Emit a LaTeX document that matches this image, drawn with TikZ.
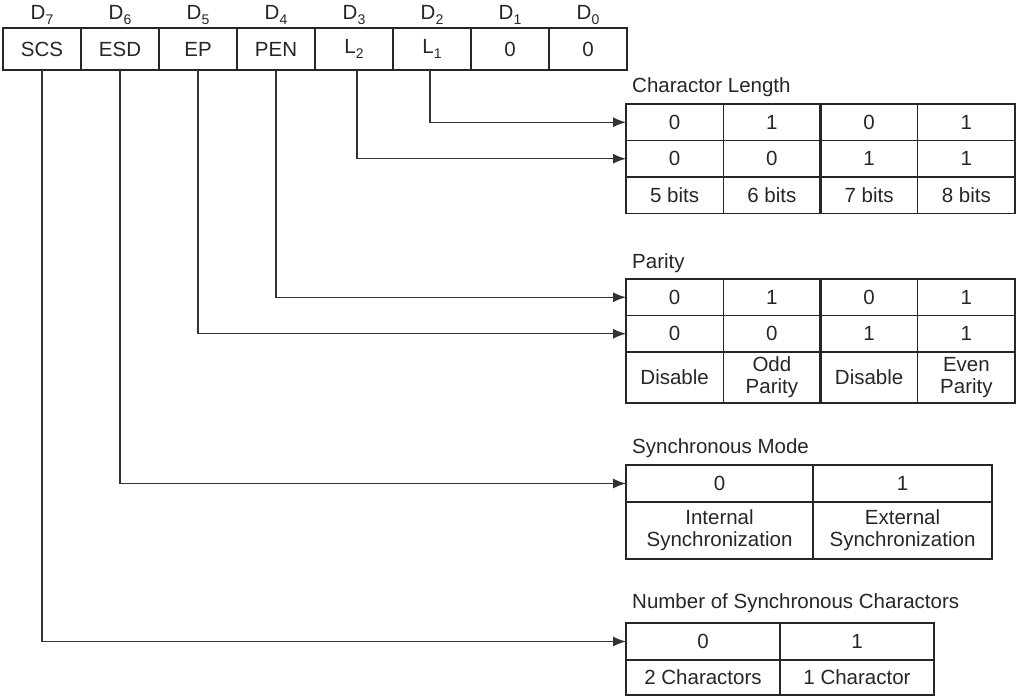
\documentclass[tikz,border=0pt]{standalone}
\usepackage{fontspec}
\setmainfont{Liberation Sans}
\usetikzlibrary{arrows.meta}
\newcommand\idx[1]{\raisebox{-0.28em}{\fontsize{14}{14}\selectfont #1}}
\begin{document}
\begin{tikzpicture}[x=1pt,y=-1pt,
  font=\fontsize{20.5}{22}\selectfont,
  cell/.style 2 args={draw=black!85, line width=1.3pt, inner sep=0pt, outer sep=0pt,
    anchor=north west, align=center, text=black!85,
    minimum width=#1, minimum height=#2},
  bitlabel/.style={inner sep=0pt, text=black!85},
  title/.style={anchor=west, inner sep=0pt, text=black!85},
  conn/.style={draw=black!80, line width=1.3pt,
    -{Latex[length=13pt,width=10pt]}},
  divider/.style={draw=black!85, line width=2.6pt}
]
\useasboundingbox (0,0) rectangle (1016,698);

% ---- mode register ----
\node[cell={78}{42}] (r7) at (3,28)   {SCS};
\node[cell={78}{42}] (r6) at (81,28)  {ESD};
\node[cell={78}{42}] (r5) at (159,28) {EP};
\node[cell={78}{42}] (r4) at (237,28) {PEN};
\node[cell={78}{42}] (r3) at (315,28) {L\idx{2}};
\node[cell={78}{42}] (r2) at (393,28) {L\idx{1}};
\node[cell={78}{42}] (r1) at (471,28) {0};
\node[cell={78}{42}] (r0) at (549,28) {0};

% bit numbers above the register cells
\foreach \b in {7,...,0}
  \node[bitlabel] (d\b) at ([yshift=34pt]r\b.center) {D\idx{\b}};

% ---- character length ----
\node[title] (tcl) at (632,87) {Charactor Length};
\node[cell={97.25}{36.5}] (cla1) at (626,104)    {0};
\node[cell={97.25}{36.5}] (cla2) at (723.25,104) {1};
\node[cell={97.25}{36.5}] (cla3) at (820.5,104)  {0};
\node[cell={97.25}{36.5}] (cla4) at (917.75,104) {1};
\node[cell={97.25}{36.5}] (clb1) at (626,140.5)    {0};
\node[cell={97.25}{36.5}] (clb2) at (723.25,140.5) {0};
\node[cell={97.25}{36.5}] (clb3) at (820.5,140.5)  {1};
\node[cell={97.25}{36.5}] (clb4) at (917.75,140.5) {1};
\node[cell={97.25}{36.5}] (clc1) at (626,177)    {5 bits};
\node[cell={97.25}{36.5}] (clc2) at (723.25,177) {6 bits};
\node[cell={97.25}{36.5}] (clc3) at (820.5,177)  {7 bits};
\node[cell={97.25}{36.5}] (clc4) at (917.75,177) {8 bits};
\draw[divider] (cla3.north west) -- (clc3.south west);

% ---- parity ----
\node[title] (tpa) at (632,263) {Parity};
\node[cell={97.25}{36.5}] (pa1) at (626,279)    {0};
\node[cell={97.25}{36.5}] (pa2) at (723.25,279) {1};
\node[cell={97.25}{36.5}] (pa3) at (820.5,279)  {0};
\node[cell={97.25}{36.5}] (pa4) at (917.75,279) {1};
\node[cell={97.25}{36.5}] (pb1) at (626,315.5)    {0};
\node[cell={97.25}{36.5}] (pb2) at (723.25,315.5) {0};
\node[cell={97.25}{36.5}] (pb3) at (820.5,315.5)  {1};
\node[cell={97.25}{36.5}] (pb4) at (917.75,315.5) {1};
\node[cell={97.25}{51}] (pc1) at (626,352)    {Disable};
\node[cell={97.25}{51}] (pc2) at (723.25,352) {Odd\\Parity};
\node[cell={97.25}{51}] (pc3) at (820.5,352)  {Disable};
\node[cell={97.25}{51}] (pc4) at (917.75,352) {Even\\Parity};
\draw[divider] (pa3.north west) -- (pc3.south west);

% ---- synchronous mode ----
\node[title] (tsm) at (632,448) {Synchronous Mode};
\node[cell={187}{37}] (sm1) at (626,465) {0};
\node[cell={179}{37}] (sm2) at (813,465) {1};
\node[cell={187}{57}] (sn1) at (626,502) {Internal\\Synchronization};
\node[cell={179}{57}] (sn2) at (813,502) {External\\Synchronization};

% ---- number of sync characters ----
\node[title] (tns) at (632,603) {Number of Synchronous Charactors};
\node[cell={154}{37}] (ns1) at (626,623) {0};
\node[cell={154}{37}] (ns2) at (780,623) {1};
\node[cell={154}{35}] (nt1) at (626,660) {2 Charactors};
\node[cell={154}{35}] (nt2) at (780,660) {1 Charactor};

% ---- bit connectors ----
\draw[conn] ([xshift=-2pt]r2.south) |- (cla1.west);
\draw[conn] ([xshift=3pt]r3.south)  |- (clb1.west);
\draw[conn] (r4.south) |- (pa1.west);
\draw[conn] (r5.south) |- (pb1.west);
\draw[conn] (r6.south) |- (sm1.west);
\draw[conn] (r7.south) |- (ns1.west);
\end{tikzpicture}
\end{document}
